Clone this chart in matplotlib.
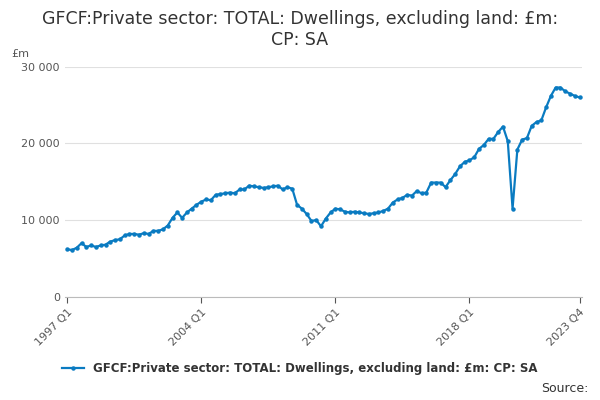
import matplotlib
matplotlib.use('Agg')
import matplotlib.pyplot as plt

# quarterly values, 1997 Q1 .. 2023 Q4
v1997_2001 = [6200, 6100, 6400, 7000, 6500, 6700, 6500, 6700, 6800, 7200,
              7400, 7500, 8000, 8200, 8200, 8100, 8300, 8200, 8600, 8600]
v2002_2006 = [8800, 9300, 10300, 11000, 10300, 11000, 11500, 12000, 12400, 12700,
              12600, 13300, 13400, 13500, 13600, 13500, 14000, 14000, 14500, 14400]
v2007_2011 = [14300, 14200, 14300, 14400, 14500, 14000, 14300, 14100, 12000, 11500,
              10800, 9900, 10000, 9200, 10200, 11000, 11500, 11400, 11100, 11000]
v2012_2016 = [11100, 11000, 10900, 10800, 10900, 11000, 11200, 11500, 12300, 12700,
              12900, 13300, 13200, 13800, 13500, 13600, 14900, 14900, 14900, 14300]
v2017_2020 = [15200, 16000, 17000, 17600, 17800, 18200, 19300, 19800, 20600, 20600,
              21500, 22200, 20300, 11500, 19200, 20500]
v2021_2023 = [20700, 22300, 22800, 23000, 24700, 26200, 27300, 27300, 26800, 26500,
              26200, 26000]
values = v1997_2001 + v2002_2006 + v2007_2011 + v2012_2016 + v2017_2020 + v2021_2023

tick_pos = [0, 28, 56, 84, 107]
tick_labels = ['1997 Q1', '2004 Q1', '2011 Q1', '2018 Q1', '2023 Q4']
series_name = 'GFCF:Private sector: TOTAL: Dwellings, excluding land: £m: CP: SA'

fig = plt.figure(figsize=(6, 4), dpi=100)
ax = fig.add_axes([0.108, 0.258, 0.862, 0.575])
ax.plot(range(len(values)), values, color='#0a7bc1', lw=1.6, marker='o', ms=2.2)
ax.set_xlim(-0.5, len(values) - 0.5)
ax.set_ylim(0, 30000)
ax.set_yticks([0, 10000, 20000, 30000])
ax.set_yticklabels(['0', '10 000', '20 000', '30 000'])
ax.set_xticks(tick_pos)
ax.set_xticklabels(tick_labels, rotation=45, ha='right', rotation_mode='anchor')
ax.tick_params(labelsize=8, colors='#555555', length=4)
ax.tick_params(axis='y', length=0)
ax.grid(axis='y', color='#e0e0e0', lw=0.8)
ax.set_axisbelow(True)
for s in ['top', 'right', 'left']:
    ax.spines[s].set_visible(False)
ax.spines['bottom'].set_color('#bbbbbb')

fig.suptitle('GFCF:Private sector: TOTAL: Dwellings, excluding land: £m:\nCP: SA',
             y=0.975, fontsize=12.5, color='#333333')
fig.text(0.018, 0.858, '£m', fontsize=8, color='#555555')
leg = fig.legend([ax.lines[0]], [series_name], loc='lower center', bbox_to_anchor=(0.5, 0.035),
                 frameon=False, prop={'size': 8.5, 'weight': 'bold'}, handlelength=1.8)
for t in leg.get_texts():
    t.set_color('#333333')
fig.text(0.98, 0.02, 'Source:', ha='right', fontsize=9, color='#333333')
fig.savefig('out.png')
